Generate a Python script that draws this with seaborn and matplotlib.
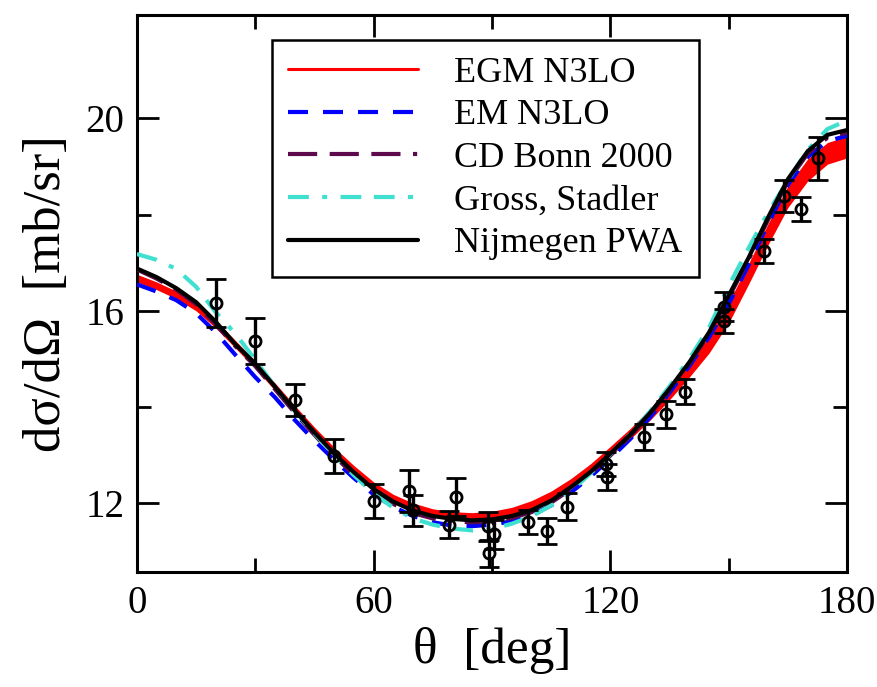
import numpy as np
import pandas as pd
import matplotlib
matplotlib.use("Agg")
import matplotlib.pyplot as plt
import seaborn as sns
from matplotlib.lines import Line2D

sns.set_theme(style="ticks")
plt.rcParams['font.family'] = ['Liberation Serif', 'DejaVu Serif']
plt.rcParams['mathtext.fontset'] = 'custom'
for key in ['text.color', 'axes.labelcolor', 'xtick.color', 'ytick.color',
            'axes.edgecolor']:
    plt.rcParams[key] = 'black'

# ---- data ----
theta = [0, 5, 10, 15, 20, 25, 30, 35, 40, 45, 50, 55, 60, 65, 70, 75, 80, 85, 90,
         95, 100, 105, 110, 115, 120, 125, 130, 135, 140, 145, 150, 155, 160, 165,
         170, 175, 180]

nijmegen = [16.88, 16.70, 16.47, 16.18, 15.77, 15.30, 14.90, 14.42, 13.93, 13.47,
            13.03, 12.64, 12.29, 12.03, 11.84, 11.73, 11.67, 11.64, 11.66, 11.73,
            11.85, 12.05, 12.33, 12.65, 13.03, 13.42, 13.87, 14.38, 14.93, 15.55,
            16.32, 17.10, 17.95, 18.74, 19.32, 19.66, 19.76]

cdbonn = [16.86, 16.67, 16.44, 16.14, 15.72, 15.26, 14.85, 14.37, 13.88, 13.42,
          12.98, 12.59, 12.25, 11.98, 11.79, 11.68, 11.62, 11.60, 11.62, 11.69,
          11.81, 12.01, 12.29, 12.61, 12.99, 13.39, 13.84, 14.35, 14.90, 15.52,
          16.28, 17.06, 17.90, 18.70, 19.27, 19.60, 19.71]

egm_lo = [16.60, 16.44, 16.25, 16.00, 15.64, 15.22, 14.80, 14.34, 13.87, 13.42,
          13.00, 12.62, 12.28, 12.02, 11.84, 11.72, 11.66, 11.64, 11.67, 11.75,
          11.89, 12.09, 12.35, 12.64, 12.98, 13.33, 13.72, 14.15, 14.62, 15.12,
          15.75, 16.55, 17.38, 18.15, 18.70, 19.05, 19.18]

egm_hi = [16.76, 16.60, 16.41, 16.16, 15.80, 15.38, 14.96, 14.50, 14.03, 13.58,
          13.16, 12.78, 12.44, 12.18, 12.00, 11.88, 11.82, 11.80, 11.83, 11.91,
          12.05, 12.25, 12.51, 12.82, 13.18, 13.55, 13.96, 14.42, 14.93, 15.48,
          16.18, 16.98, 17.82, 18.60, 19.16, 19.50, 19.63]

em_n3lo = [16.55, 16.40, 16.22, 15.95, 15.55, 15.08, 14.62, 14.20, 13.73, 13.30,
           12.90, 12.52, 12.18, 11.92, 11.73, 11.60, 11.53, 11.52, 11.55, 11.62,
           11.75, 11.95, 12.22, 12.55, 12.93, 13.33, 13.78, 14.30, 14.85, 15.45,
           16.15, 16.95, 17.82, 18.62, 19.20, 19.53, 19.64]

gross = [17.18, 17.06, 16.87, 16.50, 15.97, 15.52, 14.98, 14.42, 13.92, 13.45,
         13.00, 12.58, 12.20, 11.90, 11.68, 11.55, 11.47, 11.43, 11.46, 11.57,
         11.72, 11.95, 12.25, 12.62, 13.02, 13.43, 13.90, 14.43, 15.00, 15.65,
         16.52, 17.30, 18.05, 18.72, 19.35, 19.78, 19.96]

exp_theta = [20, 30, 40, 50, 60, 69, 70, 79, 81, 89, 90.5, 89.2, 99, 104, 109,
             119, 119.2, 128.5, 134, 139, 148.8, 148.8, 158.8, 164, 168.4, 172.7]
exp_xs = [16.17, 15.37, 14.15, 12.98, 12.04, 12.25, 11.85, 11.55, 12.13, 11.52,
          11.35, 10.96, 11.60, 11.42, 11.92, 12.81, 12.54, 13.37, 13.85, 14.32,
          15.78, 16.08, 17.24, 18.38, 18.12, 19.17]
exp_err = [0.50, 0.47, 0.33, 0.35, 0.36, 0.44, 0.32, 0.28, 0.40, 0.30,
           0.30, 0.28, 0.25, 0.27, 0.28, 0.25, 0.27, 0.27, 0.28, 0.27,
           0.25, 0.30, 0.25, 0.33, 0.25, 0.45]

labels = ["EGM N3LO", "EM N3LO", "CD Bonn 2000", "Gross, Stadler", "Nijmegen PWA"]
colors = ["#ff0000", "#0000ff", "#5c0a4c", "#40e0d0", "#000000"]

df = pd.DataFrame({"theta": theta, "nij": nijmegen, "cdb": cdbonn,
                   "em": em_n3lo, "gs": gross, "lo": egm_lo, "hi": egm_hi})

fig = plt.figure(figsize=(8.77, 6.87), dpi=100)
ax = fig.add_axes([0.156, 0.167, 0.810, 0.811])

ax.fill_between(df["theta"], df["lo"], df["hi"], color=colors[0], lw=0, zorder=2)

ls_blue = (0, (4.8, 3.6))
ls_purple = (0, (7.0, 3.0, 7.0, 3.0, 7.0, 3.0, 1.0, 3.0))
ls_cyan = (0, (5.0, 3.2, 1.2, 3.2, 5.0, 3.0))

sns.lineplot(data=df, x="theta", y="em", ax=ax, color=colors[1], lw=3.0,
             linestyle=ls_blue, zorder=3)
sns.lineplot(data=df, x="theta", y="cdb", ax=ax, color=colors[2], lw=3.0,
             linestyle=ls_purple, zorder=3)
sns.lineplot(data=df, x="theta", y="gs", ax=ax, color=colors[3], lw=3.0,
             linestyle=ls_cyan, zorder=4)
sns.lineplot(data=df, x="theta", y="nij", ax=ax, color=colors[4], lw=3.0,
             zorder=5)

ax.errorbar(exp_theta, exp_xs, yerr=exp_err, fmt='o', mfc='none', mec='black',
            mew=2.0, ms=8, ecolor='black', elinewidth=2.4, capsize=7,
            capthick=2.4, zorder=6)

handles = [
    Line2D([], [], color=colors[0], lw=2.2),
    Line2D([], [], color=colors[1], lw=3.0, linestyle=ls_blue),
    Line2D([], [], color=colors[2], lw=3.0, linestyle=ls_purple),
    Line2D([], [], color=colors[3], lw=3.0, linestyle=ls_cyan),
    Line2D([], [], color=colors[4], lw=3.0),
]
leg = ax.legend(handles, labels, loc="upper left", bbox_to_anchor=(0.19, 0.955),
                borderaxespad=0, fontsize=26, handlelength=3.6,
                handletextpad=1.0, labelspacing=0.26, borderpad=0.45,
                fancybox=False, framealpha=1, edgecolor='black')
leg.get_frame().set_linewidth(1.8)
for t in leg.get_texts():
    t.set_color('black')

ax.set_xlim(0, 180)
ax.set_ylim(10.56, 22.15)
ax.set_xticks([0, 60, 120, 180])
ax.set_xticks([30, 90, 150], minor=True)
ax.set_yticks([12, 16, 20])
ax.set_yticks([14, 18], minor=True)
ax.tick_params(which='both', direction='in', top=True, right=True, width=2,
               labelsize=28, pad=9, colors='black')
ax.tick_params(which='major', length=16)
ax.tick_params(which='minor', length=10)
for s in ax.spines.values():
    s.set_linewidth(2.2)
    s.set_color('black')

ax.set_xlabel("θ  [deg]", fontsize=37, labelpad=4, color='black')
ax.set_ylabel("dσ/dΩ  [mb/sr]", fontsize=38, labelpad=10, color='black')

fig.savefig("out.png", dpi=100)
